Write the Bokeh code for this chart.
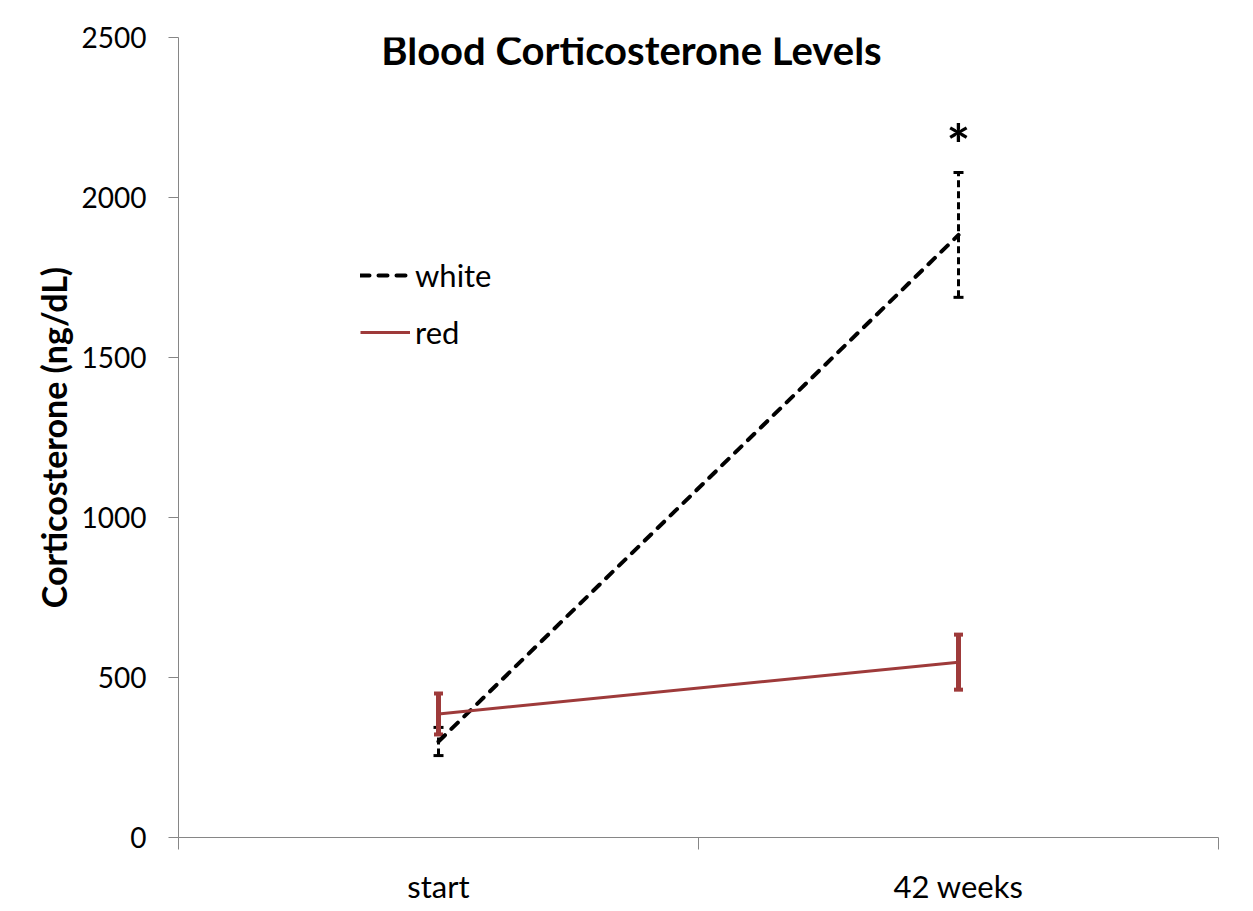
from bokeh.plotting import figure
from bokeh.models import (FactorRange, Range1d, LinearAxis, FixedTicker, ColumnDataSource,
                          Whisker, TeeHead, Legend, LegendItem, Label)
from bokeh.embed import file_html
from bokeh.resources import INLINE

# ---- data ----
categories = ["start", "42 weeks"]
white_mean = [300, 1883]
white_err = [44, 195]
red_mean = [386, 548]
red_err = [64, 86]
y_ticks = [0, 500, 1000, 1500, 2000, 2500]
title_text = "Blood Corticosterone Levels"
y_label = "Corticosterone (ng/dL)"
series_names = ["white", "red"]
sig_mark = "*"

RED = "#9E3A3A"
AXIS = "#868686"
FONT = "Lato"

p = figure(width=1250, height=908, x_range=FactorRange(*categories, range_padding=0, factor_padding=0),
           y_range=Range1d(0, 2500), output_backend="svg", toolbar_location=None,
           x_axis_location=None, min_border_left=178, min_border_right=32,
           min_border_top=37, min_border_bottom=71)
p.outline_line_color = None
p.grid.visible = False
p.background_fill_color = "white"

# x axis: labels at category centres (synthetic coords), ticks at category boundaries
n = len(categories)
xax = LinearAxis(ticker=FixedTicker(ticks=[i + 0.5 for i in range(n)], minor_ticks=list(range(n + 1))),
                 major_label_overrides={i + 0.5: c for i, c in enumerate(categories)})
xax.major_tick_out = 0
xax.major_tick_in = 0
xax.minor_tick_out = 12
xax.minor_tick_in = 0
xax.minor_tick_line_color = AXIS
xax.axis_line_color = AXIS
xax.major_label_text_font = FONT
xax.major_label_text_font_size = "31px"
xax.major_label_text_color = "black"
xax.major_label_standoff = 17
p.add_layout(xax, "below")

yax = p.yaxis[0]
yax.ticker = FixedTicker(ticks=y_ticks)
yax.major_tick_out = 10
yax.major_tick_in = 0
yax.minor_tick_line_color = None
yax.axis_line_color = AXIS
yax.major_tick_line_color = AXIS
yax.major_label_text_font = FONT
yax.major_label_text_font_size = "28px"
yax.major_label_text_color = "black"
yax.major_label_standoff = 22
yax.axis_label = y_label
yax.axis_label_text_font = FONT
yax.axis_label_text_font_style = "bold"
yax.axis_label_text_font_size = "34px"
yax.axis_label_text_color = "black"
yax.axis_label_standoff = 5

src_w = ColumnDataSource(dict(x=categories, y=white_mean,
                              lo=[m - e for m, e in zip(white_mean, white_err)],
                              hi=[m + e for m, e in zip(white_mean, white_err)]))
src_r = ColumnDataSource(dict(x=categories, y=red_mean,
                              lo=[m - e for m, e in zip(red_mean, red_err)],
                              hi=[m + e for m, e in zip(red_mean, red_err)]))

lw = p.line("x", "y", source=src_w, line_color="black", line_width=4, line_dash="9 9", line_cap="round")
ww = Whisker(base="x", lower="lo", upper="hi", source=src_w, line_color="black", line_width=3,
             line_dash="7 4",
             upper_head=TeeHead(size=10, line_width=3, line_color="black"),
             lower_head=TeeHead(size=10, line_width=3, line_color="black"))
p.add_layout(ww)

lr = p.line("x", "y", source=src_r, line_color=RED, line_width=3)
wr = Whisker(base="x", lower="lo", upper="hi", source=src_r, line_color=RED, line_width=5,
             upper_head=TeeHead(size=9, line_width=4, line_color=RED),
             lower_head=TeeHead(size=9, line_width=4, line_color=RED))
p.add_layout(wr)

legend = Legend(items=[LegendItem(label=series_names[0], renderers=[lw]),
                       LegendItem(label=series_names[1], renderers=[lr])],
                location=(182, 486), padding=0, margin=0, spacing=19,
                glyph_width=50, glyph_height=36, label_height=36, label_standoff=5,
                label_text_font=FONT, label_text_font_size="31px", label_text_color="black",
                background_fill_alpha=0, border_line_color=None)
p.add_layout(legend, "center")

p.add_layout(Label(x=0.871, y=2462, text=title_text, text_align="center", text_baseline="alphabetic",
                   text_font=FONT, text_font_style="bold", text_font_size="40px", text_color="black"))
p.add_layout(Label(x=1.5, y=2170, text=sig_mark, text_align="center", text_baseline="alphabetic",
                   text_font=FONT, text_font_style="bold", text_font_size="56px", text_color="black"))

open("out.html", "w").write(file_html(p, INLINE))
